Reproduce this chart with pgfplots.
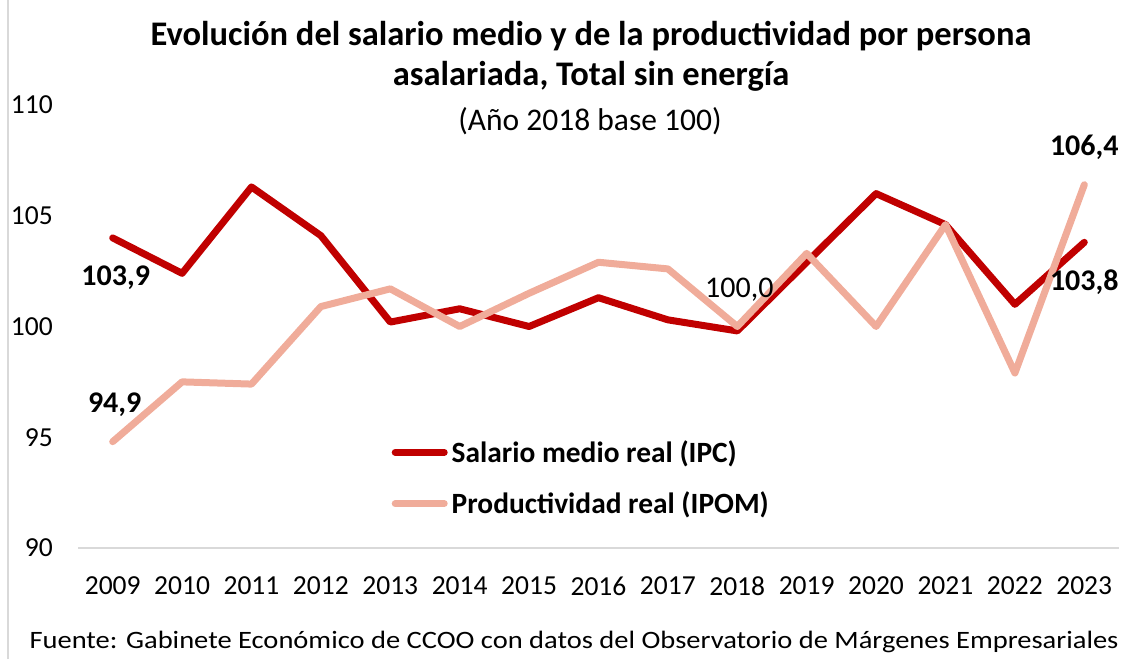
\documentclass[border=0pt]{standalone}
\usepackage{fontspec}
\setmainfont{Carlito}
\newfontfamily\fuentefont[FakeStretch=1.14]{Carlito}
\usepackage{pgfplots}
\pgfplotsset{compat=1.18}
\definecolor{salario}{HTML}{C00000}
\definecolor{prod}{HTML}{F0AC9A}
\definecolor{ejes}{HTML}{D9D9D9}

\begin{document}
\begin{tikzpicture}[x=1pt,y=1pt]
\path[use as bounding box] (0,0) rectangle (1137,659);
\draw[ejes, line width=1.5pt] (8,0) -- (8,659);
\node[anchor=base, font=\bfseries\fontsize{34.5}{40}\selectfont] at (591,613.3) {Evolución del salario medio y de la productividad por persona};
\node[anchor=base, font=\bfseries\fontsize{34.5}{40}\selectfont] at (591,573) {asalariada, Total sin energía};
\node[anchor=base, font=\fontsize{31.5}{36}\selectfont] at (590,528) {(Año 2018 base 100)};
\node[anchor=base, font=\fuentefont\fontsize{25}{30}\selectfont] at (574,11) {Fuente: Gabinete Económico de CCOO con datos del Observatorio de Márgenes Empresariales};
\begin{axis}[
    at={(78pt,111pt)}, anchor=south west,
    scale only axis, width=1041pt, height=443pt,
    xmin=2008.5, xmax=2023.5, ymin=90, ymax=110,
    xtick={2009,...,2023}, ytick={90,95,100,105,110},
    axis x line*=bottom, axis y line*=left,
    x axis line style={ejes, line width=1.5pt, -},
    y axis line style={draw=none},
    major tick length=0pt,
    /pgf/number format/assume math mode=true,
    /pgf/number format/1000 sep={},
    tick label style={font=\fontsize{27.5}{32}\selectfont, inner sep=0pt},
    xticklabel style={anchor=center, yshift=-38pt},
    yticklabel style={anchor=east, xshift=-25pt},
    clip=false,
    legend style={draw=none, fill=none, at={(0.2983,0.158)}, anchor=west,
        font=\bfseries\fontsize{29.4}{34}\selectfont, row sep=28pt, column sep=4pt,
        nodes={inner sep=0pt}},
    legend cell align=left,
    legend image code/.code={\draw[#1] (0pt,0pt) -- (49pt,0pt);},
]
\addplot[salario, line width=7pt, line join=round, line cap=round] coordinates {
    (2009,104.0) (2010,102.4) (2011,106.3) (2012,104.1) (2013,100.2)
    (2014,100.8) (2015,100.0) (2016,101.3) (2017,100.3) (2018,99.8)
    (2019,102.9) (2020,106.0) (2021,104.6) (2022,101.0) (2023,103.8)
};
\addlegendentry{Salario medio real (IPC)}
\addplot[prod, line width=7pt, line join=round, line cap=round] coordinates {
    (2009,94.8) (2010,97.5) (2011,97.4) (2012,100.9) (2013,101.7)
    (2014,100.0) (2015,101.5) (2016,102.9) (2017,102.6) (2018,100.0)
    (2019,103.3) (2020,100.0) (2021,104.6) (2022,97.9) (2023,106.4)
};
\addlegendentry{Productividad real (IPOM)}
\node[font=\bfseries\fontsize{30}{34}\selectfont] at (axis cs:2009,104.0) [yshift=-40pt, xshift=3pt] {103,9};
\node[font=\bfseries\fontsize{30}{34}\selectfont] at (axis cs:2009,94.8) [yshift=37pt, xshift=2pt] {94,9};
\node[font=\fontsize{30}{34}\selectfont] at (axis cs:2018,100.0) [yshift=37pt, xshift=2pt] {100,0};
\node[font=\bfseries\fontsize{30}{34}\selectfont] at (axis cs:2023,106.4) [yshift=37pt] {106,4};
\node[font=\bfseries\fontsize{30}{34}\selectfont] at (axis cs:2023,103.8) [yshift=-40pt] {103,8};
\end{axis}
\end{tikzpicture}
\end{document}
